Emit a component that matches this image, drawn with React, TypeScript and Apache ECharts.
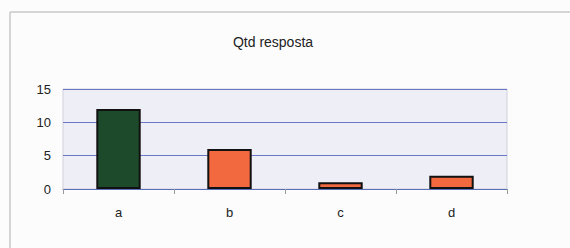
import React, { useEffect, useRef } from "react";
import * as echarts from "echarts";

const categories = ["a", "b", "c", "d"];
const values = [12, 6, 1, 2];
const barColors = ["#1d4a2a", "#f2683f", "#f2683f", "#f2683f"];
const chartTitle = "Qtd resposta";

export default function App() {
  const ref = useRef<HTMLDivElement>(null);
  useEffect(() => {
    if (!ref.current) return;
    const chart = echarts.init(ref.current, null, { renderer: "svg" });
    chart.setOption({
      animation: false,
      backgroundColor: "#fcfcfc",
      title: {
        text: chartTitle,
        left: 268,
        textAlign: "center",
        top: 30,
        textStyle: { fontFamily: "Liberation Sans", fontSize: 14, fontWeight: "normal", color: "#222" },
      },
      graphic: [
        { type: "line", shape: { x1: 10, y1: 12, x2: 570, y2: 12 }, style: { stroke: "#c8c8c8", lineWidth: 1.5 } },
        { type: "line", shape: { x1: 10, y1: 12, x2: 10, y2: 248 }, style: { stroke: "#c8c8c8", lineWidth: 1.5 } },
      ],
      grid: { left: 63, right: 63, top: 89, bottom: 59, show: true, backgroundColor: "#eeeef6", borderColor: "#d0d0dc", borderWidth: 1 },
      xAxis: {
        type: "category",
        data: categories,
        axisLine: { lineStyle: { color: "#5a6fb8", width: 1 } },
        axisTick: { show: true, length: 5, lineStyle: { color: "#999" } },
        axisLabel: { margin: 17, fontFamily: "Liberation Sans", fontSize: 13, color: "#222" },
      },
      yAxis: {
        type: "value",
        min: 0,
        max: 15,
        interval: 5,
        axisLine: { show: false },
        axisTick: { show: false },
        axisLabel: { margin: 12, fontFamily: "Liberation Sans", fontSize: 13, color: "#222" },
        splitLine: { show: true, lineStyle: { color: "#6a78c4", width: 1 } },
      },
      series: [
        {
          type: "bar",
          data: values.map((v, i) => ({ value: v, itemStyle: { color: barColors[i] } })),
          barWidth: "40%",
          itemStyle: { borderColor: "#111", borderWidth: 2 },
        },
      ],
    });
    return () => chart.dispose();
  }, []);
  return <div ref={ref} style={{ position: "fixed", left: 0, top: 0, width: 570, height: 248 }} />;
}
